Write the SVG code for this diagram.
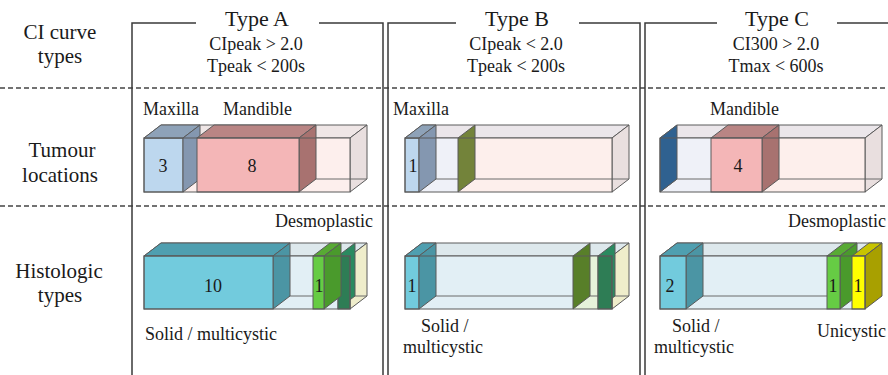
<svg xmlns="http://www.w3.org/2000/svg" width="888" height="375" viewBox="0 0 888 375">
<style>
text{font-family:"Liberation Serif","Times New Roman",serif;fill:#1a1a1a}
.lbl{font-size:21px;text-anchor:middle}
.hdr{font-size:22px;text-anchor:middle}
.sub{font-size:18px;text-anchor:middle}
.t{font-size:18px}
.n{font-size:18px;text-anchor:middle}
.frame{stroke:#3a3a3a;stroke-width:1.5;fill:none}
.dash{stroke:#444;stroke-width:1.3;stroke-dasharray:5 3;fill:none}
.e{stroke:#5a5a5a;stroke-width:1;fill:none}
.f{stroke:#5a5a5a;stroke-width:1}
.back{stroke:#6a6a6a;stroke-width:1;fill:none}
</style>

<g id="frames">
<line class="dash" x1="0" y1="88" x2="888" y2="88"/>
<line class="dash" x1="0" y1="206" x2="888" y2="206"/>
<polyline class="frame" points="196,23 132,23 132,375"/>
<polyline class="frame" points="319,23 383,23 383,375"/>
<polyline class="frame" points="456,23 388,23 388,375"/>
<polyline class="frame" points="579,23 640,23 640,375"/>
<polyline class="frame" points="717,23 645,23 645,375"/>
<line class="frame" x1="837" y1="23" x2="888" y2="23"/>
</g>

<g id="row-labels">
<text class="lbl" x="60" y="39">CI curve</text>
<text class="lbl" x="60" y="63">types</text>
<text class="lbl" x="62" y="157">Tumour</text>
<text class="lbl" x="60" y="182">locations</text>
<text class="lbl" x="59" y="278">Histologic</text>
<text class="lbl" x="60" y="302">types</text>
</g>

<g id="header-A">
<text class="hdr" x="257" y="26">Type A</text>
<text class="sub" x="256" y="50">CIpeak &gt; 2.0</text>
<text class="sub" x="256" y="72">Tpeak &lt; 200s</text>
</g>
<g id="header-B">
<text class="hdr" x="517" y="26">Type B</text>
<text class="sub" x="516" y="50">CIpeak &lt; 2.0</text>
<text class="sub" x="516" y="72">Tpeak &lt; 200s</text>
</g>
<g id="header-C">
<text class="hdr" x="777" y="26">Type C</text>
<text class="sub" x="776" y="50">CI300 &gt; 2.0</text>
<text class="sub" x="776" y="72">Tmax &lt; 600s</text>
</g>

<!-- Tumour locations, Type A -->
<g id="loc-A">
<text class="t" x="143" y="115">Maxilla</text>
<text class="t" x="223" y="115">Mandible</text>
<polygon class="f" fill="#efe6e6" points="144,138 161,125 367,125 350,138"/>
<polygon class="f" fill="#e9dfdf" points="350,138 367,125 367,179 350,192"/>
<rect x="144" y="138" width="206" height="54" fill="#fdefed"/>
<polyline class="back" points="144,192 161,179 367,179"/>
<line class="back" x1="161" y1="125" x2="161" y2="179"/>
<rect class="f" x="144" y="138" width="39" height="54" fill="#bdd7ee"/>
<polygon class="f" fill="#8ea2b8" points="144,138 161,125 200,125 183,138"/>
<polygon class="f" fill="#8497b0" points="183,138 200,125 200,179 183,192"/>
<polygon class="f" fill="#b98584" points="197,138 214,125 316,125 299,138"/>
<polygon class="f" fill="#a87270" points="299,138 316,125 316,179 299,192"/>
<rect class="f" x="197" y="138" width="102" height="54" fill="#f4b6b7"/>
<rect class="e" x="144" y="138" width="206" height="54"/>
<text class="n" x="163" y="172">3</text>
<text class="n" x="252" y="172">8</text>
</g>

<!-- Tumour locations, Type B -->
<g id="loc-B">
<text class="t" x="393" y="115">Maxilla</text>
<polygon class="f" fill="#ebe6ea" points="405,138 422,125 629,125 612,138"/>
<polygon class="f" fill="#e9dfdf" points="612,138 629,125 629,179 612,192"/>
<rect x="405" y="138" width="53" height="54" fill="#eff1f8"/>
<rect x="458" y="138" width="154" height="54" fill="#fdefec"/>
<polyline class="back" points="405,192 422,179 629,179"/>
<line class="back" x1="422" y1="125" x2="422" y2="179"/>
<rect class="f" x="405" y="138" width="14" height="54" fill="#bdd7ee"/>
<polygon class="f" fill="#8ea2b8" points="405,138 422,125 436,125 419,138"/>
<polygon class="f" fill="#8497b0" points="419,138 436,125 436,179 419,192"/>
<polygon class="f" fill="#73833a" points="458,138 475,125 475,179 458,192"/>
<rect class="e" x="405" y="138" width="207" height="54"/>
<text class="n" x="413" y="172">1</text>
</g>

<!-- Tumour locations, Type C -->
<g id="loc-C">
<text class="t" x="710" y="115">Mandible</text>
<polygon class="f" fill="#ebe6ea" points="660,138 677,125 882,125 865,138"/>
<polygon class="f" fill="#e9dfdf" points="865,138 882,125 882,179 865,192"/>
<rect x="660" y="138" width="51" height="54" fill="#eff1f8"/>
<rect x="711" y="138" width="154" height="54" fill="#fdefec"/>
<polyline class="back" points="660,192 677,179 882,179"/>
<polygon class="f" fill="#2f6190" points="660,138 677,125 677,179 660,192"/>
<polygon class="f" fill="#b98584" points="711,138 728,125 779,125 762,138"/>
<polygon class="f" fill="#a87270" points="762,138 779,125 779,179 762,192"/>
<rect class="f" x="711" y="138" width="51" height="54" fill="#f4b6b7"/>
<rect class="e" x="660" y="138" width="205" height="54"/>
<text class="n" x="738" y="172">4</text>
</g>

<!-- Histologic types, Type A -->
<g id="hist-A">
<text class="t" x="275" y="227">Desmoplastic</text>
<text class="t" x="145" y="340">Solid / multicystic</text>
<polygon class="f" fill="#dde8ec" points="144,256 161,243 367,243 350,256"/>
<polygon class="f" fill="#efedcb" points="350,256 367,243 367,296 350,309"/>
<rect x="144" y="256" width="206" height="53" fill="#e2eff5"/>
<polyline class="back" points="144,309 161,296 367,296"/>
<polygon class="f" fill="#4f9fb0" points="144,256 161,243 290,243 273,256"/>
<polygon class="f" fill="#4b95a4" points="273,256 290,243 290,296 273,309"/>
<rect class="f" x="144" y="256" width="129" height="53" fill="#72cbdd"/>
<polygon class="f" fill="#2a8a60" points="338,256 355,243 355,296 338,309"/>
<rect class="f" x="338" y="256" width="12" height="53" fill="#2e7d55"/>
<polygon class="f" fill="#58aa34" points="313,256 330,243 341,243 324,256"/>
<polygon class="f" fill="#4a9a2c" points="324,256 341,243 341,296 324,309"/>
<rect class="f" x="313" y="256" width="11" height="53" fill="#66cc44"/>
<rect class="e" x="144" y="256" width="206" height="53"/>
<text class="n" x="213" y="292">10</text>
<text class="n" x="319" y="292">1</text>
</g>

<!-- Histologic types, Type B -->
<g id="hist-B">
<text class="t" x="421" y="332">Solid /</text>
<text class="t" x="403" y="353">multicystic</text>
<polygon class="f" fill="#dde8ec" points="405,256 422,243 629,243 612,256"/>
<polygon class="f" fill="#efedcb" points="612,256 629,243 629,296 612,309"/>
<rect x="405" y="256" width="168" height="53" fill="#e2eff5"/>
<rect x="573" y="256" width="25" height="53" fill="#e6f2da"/>
<polyline class="back" points="405,309 422,296 629,296"/>
<rect class="f" x="405" y="256" width="14" height="53" fill="#72cbdd"/>
<polygon class="f" fill="#4f9fb0" points="405,256 422,243 436,243 419,256"/>
<polygon class="f" fill="#4b95a4" points="419,256 436,243 436,296 419,309"/>
<polygon class="f" fill="#587f29" points="573,256 590,243 590,296 573,309"/>
<polygon class="f" fill="#2a8a60" points="598,256 615,243 615,296 598,309"/>
<rect class="f" x="598" y="256" width="14" height="53" fill="#2e7d55"/>
<rect class="e" x="405" y="256" width="207" height="53"/>
<text class="n" x="412" y="292">1</text>
</g>

<!-- Histologic types, Type C -->
<g id="hist-C">
<text class="t" x="788" y="227">Desmoplastic</text>
<text class="t" x="672" y="332">Solid /</text>
<text class="t" x="654" y="353">multicystic</text>
<text class="t" x="817" y="337">Unicystic</text>
<polygon class="f" fill="#dde8ec" points="660,256 677,243 882,243 865,256"/>
<rect x="660" y="256" width="205" height="53" fill="#e2eff5"/>
<polyline class="back" points="660,309 677,296 882,296"/>
<polygon class="f" fill="#4f9fb0" points="660,256 677,243 703,243 686,256"/>
<polygon class="f" fill="#4b95a4" points="686,256 703,243 703,296 686,309"/>
<rect class="f" x="660" y="256" width="26" height="53" fill="#72cbdd"/>
<polygon class="f" fill="#58aa34" points="827,256 844,243 857,243 840,256"/>
<polygon class="f" fill="#4a9a2c" points="840,256 857,243 857,296 840,309"/>
<rect class="f" x="827" y="256" width="13" height="53" fill="#66cc44"/>
<polygon class="f" fill="#c8c400" points="852,256 869,243 882,243 865,256"/>
<polygon class="f" fill="#a8a000" points="865,256 882,243 882,296 865,309"/>
<rect class="f" x="852" y="256" width="13" height="53" fill="#ffff00"/>
<rect class="e" x="660" y="256" width="205" height="53"/>
<text class="n" x="670" y="292">2</text>
<text class="n" x="833" y="292">1</text>
<text class="n" x="858" y="292">1</text>
</g>
</svg>
